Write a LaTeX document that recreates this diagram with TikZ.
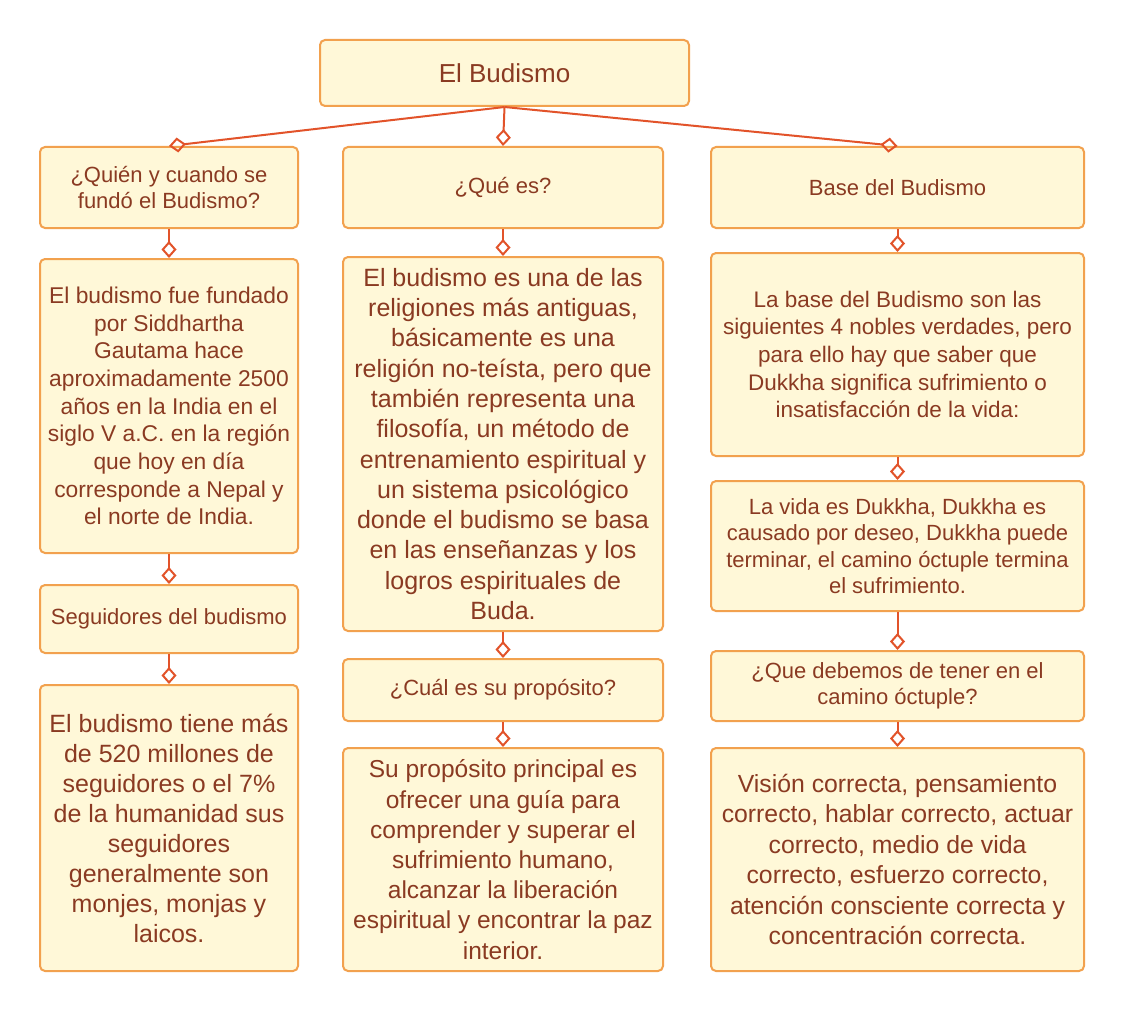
\documentclass[tikz,border=0pt]{standalone}
\usepackage{fontspec}
\setmainfont{Liberation Sans}
\usepackage{tikz}
\usetikzlibrary{arrows.meta,positioning}
\definecolor{boxfill}{HTML}{FFF8D8}
\definecolor{boxline}{HTML}{F2A14E}
\definecolor{linkcol}{HTML}{E2532A}
\definecolor{textcol}{HTML}{8A3A22}
\newcommand{\fs}[2]{\fontsize{#1}{#2}\selectfont}

\begin{document}
\begin{tikzpicture}[x=1pt,y=-1pt,
  box/.style={draw=boxline,fill=boxfill,rounded corners=5pt,line width=2pt,text=textcol,align=center,inner sep=2pt},
  link/.style={draw=linkcol,line width=2pt,-{Diamond[open,length=17pt,width=15pt,line width=2pt]}}]
  \useasboundingbox[fill=white] (0,0) rectangle (1124,1011);
  % title
  \node[box,minimum width=369pt,minimum height=66pt,font=\fs{26}{30}] (root) at (504.5,73) {El Budismo};
  % left column
  \node[box,minimum width=258pt,minimum height=81pt,font=\fs{22}{26}] (q1) at (169,187.5) {¿Quién y cuando se\\fundó el Budismo?};
  \node[box,minimum width=258pt,minimum height=294pt,font=\fs{22.8}{27.7}] (a1) at (169,406) {El budismo fue fundado\\por Siddhartha\\Gautama hace\\aproximadamente 2500\\años en la India en el\\siglo V a.C. en la región\\que hoy en día\\corresponde a Nepal y\\el norte de India.};
  \node[box,minimum width=258pt,minimum height=68pt,font=\fs{22}{26}] (q2) at (169,619) {Seguidores del budismo};
  \node[box,minimum width=258pt,minimum height=286pt,font=\fs{25}{30}] (a2) at (169,828) {El budismo tiene más\\de 520 millones de\\seguidores o el 7\%\\de la humanidad sus\\seguidores\\generalmente son\\monjes, monjas y\\laicos.};
  % middle column
  \node[box,minimum width=320pt,minimum height=81pt,font=\fs{22}{26}] (q3) at (503,187.5) {¿Qué es?};
  \node[box,minimum width=320pt,minimum height=374pt,font=\fs{25}{30.3}] (a3) at (503,444) {El budismo es una de las\\religiones más antiguas,\\básicamente es una\\religión no-teísta, pero que\\también representa una\\filosofía, un método de\\entrenamiento espiritual y\\un sistema psicológico\\donde el budismo se basa\\en las enseñanzas y los\\logros espirituales de\\Buda.};
  \node[box,minimum width=320pt,minimum height=62pt,font=\fs{22}{26}] (q4) at (503,690) {¿Cuál es su propósito?};
  \node[box,minimum width=320pt,minimum height=223pt,font=\fs{24.5}{30.2}] (a4) at (503,859.5) {Su propósito principal es\\ofrecer una guía para\\comprender y superar el\\sufrimiento humano,\\alcanzar la liberación\\espiritual y encontrar la paz\\interior.};
  % right column
  \node[box,minimum width=373pt,minimum height=81pt,font=\fs{22}{26}] (q5) at (897.5,187.5) {Base del Budismo};
  \node[box,minimum width=373pt,minimum height=203pt,font=\fs{22.5}{27.7}] (a5) at (897.5,354.5) {La base del Budismo son las\\siguientes 4 nobles verdades, pero\\para ello hay que saber que\\Dukkha significa sufrimiento o\\insatisfacción de la vida:};
  \node[box,minimum width=373pt,minimum height=130pt,font=\fs{22}{26.3}] (a6) at (897.5,546) {La vida es Dukkha, Dukkha es\\causado por deseo, Dukkha puede\\terminar, el camino óctuple termina\\el sufrimiento.};
  \node[box,minimum width=373pt,minimum height=70pt,font=\fs{22}{26}] (q6) at (897.5,686) {¿Que debemos de tener en el\\camino óctuple?};
  \node[box,minimum width=373pt,minimum height=223pt,font=\fs{24.8}{30.4}] (a7) at (897.5,859.5) {Visión correcta, pensamiento\\correcto, hablar correcto, actuar\\correcto, medio de vida\\correcto, esfuerzo correcto,\\atención consciente correcta y\\concentración correcta.};
  % connectors
  \foreach \a/\b in {root/q1,root/q3,root/q5,q1/a1,a1/q2,q2/a2,q3/a3,a3/q4,q4/a4,q5/a5,a5/a6,a6/q6,q6/a7}
    \draw[link] (\a.south) -- (\b.north);
\end{tikzpicture}
\end{document}
